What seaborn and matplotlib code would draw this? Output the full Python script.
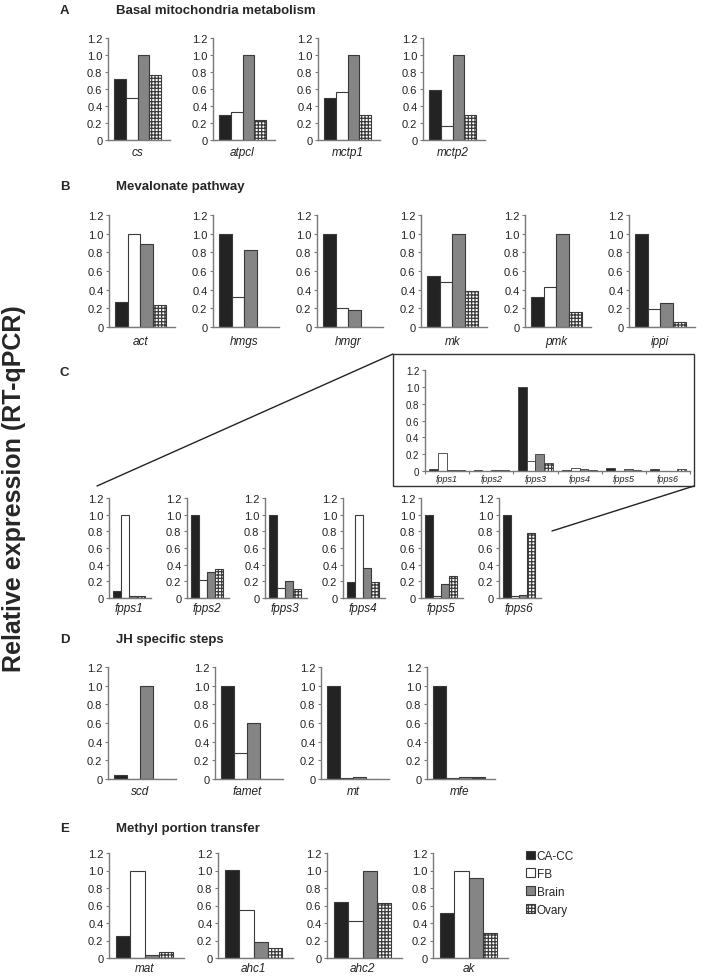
import numpy as np
import pandas as pd
import matplotlib
matplotlib.use('Agg')
import matplotlib.pyplot as plt
from matplotlib.patches import Patch, Rectangle
from matplotlib.lines import Line2D
import seaborn as sns

# ---- data (relative expression) ----
tissues = ['CA-CC', 'FB', 'Brain', 'Ovary']

genes_a = ['cs', 'atpcl', 'mctp1', 'mctp2']
cacc_a = [0.72, 0.30, 0.49, 0.59]
fb_a = [0.49, 0.33, 0.56, 0.17]
brain_a = [1.00, 1.00, 1.00, 1.00]
ovary_a = [0.77, 0.23, 0.29, 0.29]

genes_b = ['act', 'hmgs', 'hmgr', 'mk', 'pmk', 'ippi']
cacc_b = [0.27, 1.00, 1.00, 0.55, 0.32, 1.00]
fb_b = [1.00, 0.32, 0.20, 0.48, 0.43, 0.19]
brain_b = [0.89, 0.83, 0.18, 1.00, 1.00, 0.26]
ovary_b = [0.24, 0.00, 0.00, 0.39, 0.16, 0.05]

genes_c = ['fpps1', 'fpps2', 'fpps3', 'fpps4', 'fpps5', 'fpps6']
cacc_c = [0.08, 1.00, 1.00, 0.19, 1.00, 1.00]
fb_c = [1.00, 0.22, 0.12, 1.00, 0.03, 0.03]
brain_c = [0.02, 0.31, 0.20, 0.36, 0.17, 0.04]
ovary_c = [0.03, 0.35, 0.11, 0.19, 0.27, 0.78]

# inset: all fpps relative to fpps3 in CA-CC
cacc_inset = [0.02, 0.01, 1.00, 0.01, 0.03, 0.02]
fb_inset = [0.21, 0.00, 0.12, 0.04, 0.00, 0.00]
brain_inset = [0.01, 0.01, 0.20, 0.02, 0.02, 0.00]
ovary_inset = [0.01, 0.01, 0.10, 0.01, 0.01, 0.02]

genes_d = ['scd', 'famet', 'mt', 'mfe']
cacc_d = [0.04, 1.00, 1.00, 1.00]
fb_d = [0.00, 0.28, 0.01, 0.01]
brain_d = [1.00, 0.60, 0.02, 0.02]
ovary_d = [0.00, 0.00, 0.00, 0.02]

genes_e = ['mat', 'ahc1', 'ahc2', 'ak']
cacc_e = [0.25, 1.01, 0.64, 0.51]
fb_e = [1.00, 0.55, 0.42, 1.00]
brain_e = [0.04, 0.18, 1.00, 0.91]
ovary_e = [0.07, 0.12, 0.63, 0.29]

yticks = [0, 0.2, 0.4, 0.6, 0.8, 1.0, 1.2]
ytick_labels = ['0', '0.2', '0.4', '0.6', '0.8', '1.0', '1.2']

palette = {'CA-CC': '#232323', 'FB': '#ffffff', 'Brain': '#858585', 'Ovary': '#ffffff'}

# ---- style ----
sns.set_style('ticks')
plt.rcParams['font.family'] = ['Liberation Sans', 'DejaVu Sans']
plt.rcParams['hatch.color'] = '#111111'
plt.rcParams['hatch.linewidth'] = 0.9
axis_grey = '#7a7a7a'

W, H = 703, 978
fig = plt.figure(figsize=(W / 100, H / 100), dpi=100)


def px_axes(x0, ytop, w, ybot):
    return fig.add_axes([x0 / W, 1 - ybot / H, w / W, (ybot - ytop) / H])


def style_axes(ax, fs=8, xfs=8.5, xpad=4):
    ax.set_ylim(0, 1.2)
    ax.set_yticks(yticks)
    ax.set_yticklabels(ytick_labels)
    for s in ['top', 'right']:
        ax.spines[s].set_visible(False)
    for s in ['left', 'bottom']:
        ax.spines[s].set_color(axis_grey)
        ax.spines[s].set_linewidth(1.0)
    ax.tick_params(axis='y', length=2.5, width=0.8, color=axis_grey, pad=1.5,
                   labelsize=fs, labelcolor='#222222')
    ax.tick_params(axis='x', length=0, pad=xpad, labelsize=xfs, labelcolor='#222222')
    for t in ax.get_xticklabels():
        t.set_fontstyle('italic')
    ax.set_xlabel('')
    ax.set_ylabel('')


def bars(ax, genes, cols, width=0.8, lw=0.8):
    df = pd.DataFrame({
        'gene': np.repeat(genes, 4),
        'tissue': tissues * len(genes),
        'value': np.array(cols).T.ravel(),
    })
    sns.barplot(data=df, x='gene', y='value', hue='tissue', hue_order=tissues,
                palette=palette, edgecolor='#3a3a3a', linewidth=lw, width=width,
                legend=False, ax=ax)
    for p in ax.containers[3]:
        p.set_hatch('+++++')


def panel(genes, cacc, fb, brain, ovary, lefts, w, ytop, ybot, xpad=4):
    for i, g in enumerate(genes):
        ax = px_axes(lefts[i], ytop, w, ybot)
        bars(ax, [g], [[cacc[i]], [fb[i]], [brain[i]], [ovary[i]]])
        ax.set_xlim(-0.5, 0.55)
        style_axes(ax, xpad=xpad)


def header(letter, title, y):
    fig.text(60 / W, 1 - y / H, letter, fontsize=9.5, fontweight='bold', va='center', ha='left')
    if title:
        fig.text(116 / W, 1 - y / H, title, fontsize=9.5, fontweight='bold', va='center', ha='left')


# A
header('A', 'Basal mitochondria metabolism', 11)
panel(genes_a, cacc_a, fb_a, brain_a, ovary_a, [108, 213, 318, 423], 62, 39, 141)

# B
header('B', 'Mevalonate pathway', 187)
panel(genes_b, cacc_b, fb_b, brain_b, ovary_b, [109, 213, 317, 421, 525, 629], 66, 216, 328, xpad=6)

# C
header('C', None, 373)
panel(genes_c, cacc_c, fb_c, brain_c, ovary_c, [109, 187, 265, 343, 421, 499], 42, 499, 599, xpad=3)

# inset box and zoom lines
fig.add_artist(Rectangle((393 / W, 1 - 487 / H), (694 - 393) / W, (487 - 355) / H,
                         transform=fig.transFigure, fill=False, edgecolor='#333333', lw=1.0))
fig.add_artist(Line2D([393 / W, 97 / W], [1 - 355 / H, 1 - 487 / H],
                      transform=fig.transFigure, color='#222222', lw=1.0))
fig.add_artist(Line2D([694 / W, 552 / W], [1 - 487 / H, 1 - 532 / H],
                      transform=fig.transFigure, color='#222222', lw=1.0))

axi = px_axes(425, 371, 265, 472)
bars(axi, genes_c, [cacc_inset, fb_inset, brain_inset, ovary_inset], lw=0.6)
axi.set_xlim(-0.5, 5.5)
style_axes(axi, fs=7, xfs=6.5, xpad=2.5)
axi.set_xticks(np.arange(-0.5, 6, 1.0), minor=True)
axi.tick_params(axis='x', which='minor', length=2.5, color=axis_grey, width=0.8)

# D
header('D', 'JH specific steps', 640)
panel(genes_d, cacc_d, fb_d, brain_d, ovary_d, [108, 215, 321, 427], 68, 668, 780)

# E
header('E', 'Methyl portion transfer', 829)
panel(genes_e, cacc_e, fb_e, brain_e, ovary_e, [109, 218, 327, 433], 75, 854, 959, xpad=3)

# legend
handles = [Patch(facecolor=palette[t], edgecolor='#3a3a3a', linewidth=0.8,
                 hatch='+++++' if t == 'Ovary' else None) for t in tissues]
fig.legend(handles, tissues, loc='upper left', bbox_to_anchor=(526 / W, 1 - 851 / H),
           frameon=False, fontsize=8.5, handlelength=0.75, handleheight=0.75,
           handletextpad=0.15, labelspacing=0.5, borderpad=0, borderaxespad=0)

# common y label
fig.text(14 / W, 0.5, 'Relative expression (RT-qPCR)', rotation=90, fontsize=18,
         fontweight='bold', va='center', ha='center')

fig.savefig('out.png', dpi=100)
